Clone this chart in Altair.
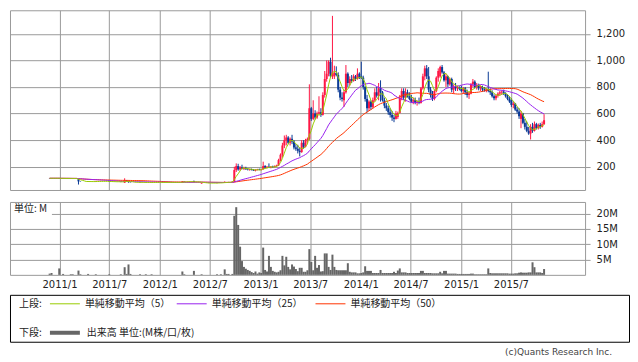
import pandas as pd
import altair as alt

# Weekly candles (open, high, low, close), one row per week starting 2010-11-26
bars_2010_2012 = [
    (114, 115, 112, 113), (113, 114, 112, 113), (113, 113, 113, 113), (113, 113, 113, 113), (113, 113, 113, 113),
    (113, 116, 111, 112), (112, 112, 112, 112), (112, 113, 110, 112), (112, 112, 112, 112), (112, 112, 112, 112),
    (112, 112, 112, 112), (112, 113, 110, 111), (111, 112, 110, 111), (111, 111, 111, 111), (111, 111, 111, 111),
    (106, 108, 66, 90), (90, 92, 88, 89), (89, 89, 89, 89), (89, 89, 89, 89), (89, 89, 89, 89),
    (89, 92, 86, 88), (88, 88, 88, 88), (88, 88, 88, 88), (88, 88, 88, 88), (88, 92, 87, 90),
    (90, 90, 90, 90), (90, 90, 90, 90), (90, 90, 90, 90), (90, 90, 90, 90), (90, 90, 90, 90),
    (90, 90, 90, 90), (90, 91, 86, 87), (87, 87, 87, 87), (87, 87, 87, 87), (87, 87, 87, 87),
    (87, 87, 87, 87), (87, 87, 87, 87), (87, 88, 84, 85), (85, 85, 85, 85), (80, 113, 78, 96),
    (96, 98, 90, 92), (92, 96, 80, 84), (84, 86, 82, 83), (83, 83, 83, 83), (83, 83, 83, 83),
    (83, 83, 83, 83), (83, 83, 83, 83), (83, 84, 80, 82), (82, 82, 82, 82), (82, 82, 82, 82),
    (82, 83, 80, 81), (81, 81, 81, 81), (81, 81, 81, 81), (81, 83, 80, 82), (82, 82, 82, 82),
    (82, 82, 82, 82), (82, 82, 82, 82), (82, 82, 82, 82), (82, 82, 82, 82), (82, 82, 82, 82),
    (82, 82, 82, 82), (82, 82, 82, 82), (82, 82, 82, 82), (82, 82, 82, 82), (82, 82, 82, 82),
    (82, 82, 82, 82), (82, 82, 82, 82), (82, 82, 82, 82), (82, 82, 82, 82), (82, 92, 81, 89),
    (89, 90, 86, 87), (87, 87, 87, 87), (87, 87, 87, 87), (87, 87, 87, 87), (87, 87, 87, 87),
    (92, 96, 84, 85), (85, 85, 85, 85), (85, 85, 85, 85), (85, 85, 85, 85), (74, 78, 72, 77),
    (77, 77, 77, 77), (77, 77, 77, 77), (77, 77, 77, 77), (77, 77, 77, 77), (77, 77, 77, 77),
    (77, 77, 77, 77), (77, 77, 77, 77), (77, 80, 76, 79), (79, 79, 79, 79), (79, 81, 78, 80),
    (80, 80, 80, 80), (82, 90, 80, 84), (84, 85, 82, 83), (83, 86, 82, 85), (85, 85, 85, 85),
    (85, 90, 84, 88), (88, 200, 86, 175), (175, 225, 160, 205), (205, 222, 170, 180), (180, 205, 170, 195),
    (195, 215, 180, 185), (185, 200, 175, 190), (190, 200, 178, 180), (180, 190, 172, 178), (178, 185, 170, 182),
    (182, 186, 172, 175), (175, 182, 168, 170), (170, 180, 165, 178), (178, 184, 172, 180), (180, 186, 174, 176),
]
bars_2013 = [
    (176, 182, 172, 180), (180, 238, 178, 205), (205, 212, 188, 195), (195, 205, 188, 200), (200, 225, 190, 195),
    (195, 205, 188, 200), (200, 208, 192, 198), (198, 210, 195, 205), (205, 215, 200, 210), (210, 260, 205, 250),
    (250, 300, 240, 290), (290, 380, 270, 360), (360, 435, 340, 400), (400, 440, 360, 420), (420, 430, 370, 380),
    (380, 420, 360, 410), (410, 440, 370, 390), (390, 400, 330, 345), (345, 370, 320, 335), (335, 365, 300, 320),
    (320, 345, 278, 310), (310, 400, 305, 380), (380, 400, 335, 350), (350, 410, 345, 400), (400, 420, 380, 410),
    (410, 820, 400, 640), (640, 650, 545, 560), (560, 700, 550, 600), (600, 625, 555, 570), (570, 615, 560, 600),
    (600, 730, 590, 610), (610, 640, 575, 590), (590, 760, 585, 740), (740, 920, 720, 860), (860, 1000, 840, 900),
    (900, 1000, 880, 990), (990, 1020, 870, 880), (880, 1335, 860, 910), (880, 960, 860, 905), (905, 955, 880, 890),
    (890, 910, 760, 780), (780, 800, 700, 720), (720, 760, 690, 710), (700, 780, 650, 760), (760, 965, 750, 900),
    (900, 910, 800, 830), (830, 880, 810, 860), (860, 890, 830, 845), (845, 895, 840, 880), (880, 890, 845, 860),
    (860, 940, 855, 900), (900, 910, 860, 870),
]
bars_2014 = [
    (880, 990, 860, 870), (870, 885, 780, 800), (800, 810, 690, 710), (710, 740, 610, 640), (640, 700, 620, 690),
    (690, 700, 630, 650), (650, 720, 640, 700), (700, 790, 690, 760), (760, 800, 720, 735), (735, 830, 700, 790),
    (790, 850, 690, 760), (760, 770, 690, 700), (700, 720, 640, 660), (660, 680, 620, 640), (640, 660, 590, 610),
    (610, 640, 570, 590), (590, 620, 545, 570), (570, 590, 535, 560), (560, 620, 555, 600), (575, 615, 560, 605),
    (605, 740, 600, 720), (720, 790, 700, 770), (770, 790, 700, 720), (720, 790, 690, 760), (760, 780, 720, 735),
    (735, 760, 700, 710), (710, 740, 680, 690), (690, 720, 670, 700), (700, 720, 670, 680), (680, 700, 660, 690),
    (690, 720, 670, 680), (680, 800, 675, 790), (790, 900, 780, 880), (880, 960, 850, 940), (940, 965, 860, 880),
    (880, 950, 760, 780), (780, 800, 720, 740), (740, 770, 695, 710), (710, 780, 700, 770), (770, 880, 760, 870),
    (870, 940, 840, 920), (880, 960, 870, 950), (950, 965, 900, 910), (910, 920, 840, 850), (850, 900, 800, 880),
    (880, 885, 800, 820), (820, 870, 810, 860), (860, 870, 760, 780), (780, 820, 750, 800), (800, 830, 770, 790),
    (790, 810, 770, 800), (800, 805, 775, 785),
]
bars_2015 = [
    (785, 810, 760, 770), (770, 800, 750, 790), (790, 800, 740, 760), (760, 780, 720, 740), (740, 760, 710, 750),
    (750, 830, 745, 820), (820, 860, 800, 840), (840, 850, 790, 800), (800, 830, 780, 815), (815, 825, 775, 790),
    (790, 810, 770, 800), (800, 810, 765, 780), (780, 800, 765, 775), (775, 790, 760, 785), (785, 915, 760, 770),
    (770, 790, 740, 760), (760, 775, 720, 730), (730, 745, 700, 715), (715, 740, 700, 735), (735, 760, 720, 750),
    (750, 770, 735, 760), (760, 775, 740, 765), (765, 780, 740, 750), (750, 760, 720, 730), (730, 745, 700, 710),
    (710, 730, 680, 690), (700, 715, 650, 665), (665, 690, 640, 675), (675, 680, 620, 630), (630, 650, 600, 615),
    (615, 640, 560, 580), (560, 620, 490, 600), (600, 605, 520, 530), (530, 560, 480, 500), (500, 540, 460, 470),
    (470, 500, 440, 450), (450, 520, 405, 500), (500, 530, 455, 470), (470, 540, 465, 520), (520, 530, 480, 490),
    (490, 525, 480, 515), (515, 530, 485, 500), (500, 540, 495, 520), (520, 595, 515, 550),
]

# Weekly volume in millions of shares
vol_2010_2012 = [
    0.4, 0.6, 0, 0, 0, 2.1, 0, 0.3, 0, 0, 0, 0.2, 0.2, 0, 0, 1.4, 0.2, 0, 0, 0,
    0.3, 0, 0, 0, 0.2, 0, 0, 0, 0, 0, 0, 0.2, 0, 0, 0, 0, 0, 0.2, 0, 2.5,
    0.3, 3.4, 0.3, 0, 0, 0, 0, 0.2, 0, 0, 0.2, 0, 0, 0.2, 0, 0, 0, 0, 0, 0,
    0, 0, 0, 0, 0, 0, 0, 0, 0, 1.1, 0.2, 0, 0, 0, 0, 1.3, 0, 0, 0, 0.2,
    0, 0, 0, 0, 0, 0, 0, 0.2, 0, 0.2, 0, 1.8, 0.3, 0.3, 0, 0.3, 19.3, 22.1, 16.3, 9.2,
    4.5, 2.6, 2.0, 1.6, 1.3, 0.9, 0.6, 1.1, 0.4, 0.8,
]
vol_2013 = [
    0.6, 8.9, 1.6, 1.1, 6.2, 2.6, 1.3, 1.0, 0.8, 1.0, 1.5, 6.2, 3.1, 5.9, 2.6, 1.8, 3.4, 2.7, 1.9, 1.2,
    2.3, 2.3, 1.0, 1.0, 1.5, 8.4, 4.2, 1.5, 6.2, 2.3, 3.2, 1.1, 1.2, 7.0, 7.0, 2.6, 1.6, 6.6, 2.6, 1.6,
    1.5, 1.5, 1.5, 1.5, 1.5, 3.8, 1.0, 0.8, 0.8, 0.8, 0.5, 0.5,
]
vol_2014 = [
    0.6, 0.8, 2.8, 1.3, 1.3, 1.3, 0.6, 0.6, 0.6, 0.6, 1.6, 0.6, 0.6, 0.6, 0.6, 0.6, 0.6, 1.0, 0.6, 1.4,
    2.1, 0.8, 0.8, 0.8, 0.6, 0.6, 0.6, 0.6, 0.6, 0.6, 0.6, 1.3, 1.3, 0.6, 0.6, 0.6, 0.6, 0.5, 0.5, 0.5,
    0.5, 1.0, 0.5, 1.3, 1.3, 0.4, 0.4, 0.4, 0.4, 0.4, 0.3, 0.3,
]
vol_2015 = [
    0.3, 0.3, 0.3, 0.3, 0.3, 0.4, 0.4, 0.2, 0.2, 0.2, 0.2, 0.2, 0.2, 0.2, 2.1, 0.6, 0.5, 0.5, 0.5, 0.5,
    0.5, 0.5, 0.5, 0.5, 0.5, 0.4, 0.4, 0.4, 0.5, 0.5, 0.7, 0.8, 0.7, 0.7, 0.7, 0.8, 0.8, 4.1, 2.5, 0.8,
    0.8, 0.8, 0.6, 1.9,
]

first_week = "2010-11-26"
price_ticks = [200, 400, 600, 800, 1000, 1200]
volume_ticks = [5, 10, 15, 20]
x_tick_months = [(2011, 1), (2011, 7), (2012, 1), (2012, 7), (2013, 1),
                 (2013, 7), (2014, 1), (2014, 7), (2015, 1), (2015, 7)]
legend_top = "上段:"
legend_bottom = "下段:"
ma_labels = ["単純移動平均（5）", "単純移動平均（25）", "単純移動平均（50）"]
volume_label = "出来高 単位:(M株/口/枚)"
unit_label = "単位: M"
credit = "(c)Quants Research Inc."

# ---------------------------------------------------------------------------
bars = bars_2010_2012 + bars_2013 + bars_2014 + bars_2015
vols = vol_2010_2012 + vol_2013 + vol_2014 + vol_2015
assert len(bars) == len(vols), (len(bars), len(vols))

df = pd.DataFrame(bars, columns=["open", "high", "low", "close"])
df["volume"] = vols
df["date"] = pd.date_range(first_week, periods=len(df), freq="7D").strftime("%Y-%m-%d")

UP, DOWN = "#ff1744", "#0a3a96"
MA_COLORS = ["#99cc00", "#9922ee", "#ff3300"]
GRID = "#9a9a9a"
JP = "Noto Sans CJK JP"
W, H1, H2 = 576, 180, 73
LEG_W, LEG_H = 620, 47

xscale = alt.Scale(type="utc", domain=[alt.DateTime(year=2010, month=7, date=23, utc=True),
                                       alt.DateTime(year=2016, month=3, date=9, utc=True)])
xvals = [alt.DateTime(year=y, month=m, date=1, utc=True) for y, m in x_tick_months]
yscale = alt.Scale(domain=[25, 1377], zero=False, nice=False)

x_top_axis = alt.Axis(values=xvals, grid=True, labels=False, ticks=False, domain=False, title=None)
x_bot_axis = alt.Axis(values=xvals, grid=True, ticks=False, domain=False, title=None,
                      labelExpr="utcFormat(datum.value, '%Y/%-m')", labelPadding=5,
                      labelOverlap=False, labelFlush=False)
y_price_axis = alt.Axis(orient="right", values=price_ticks, labelExpr="format(datum.value, ',')",
                        grid=True, domain=False, tickColor=GRID, tickSize=5, labelPadding=6,
                        labelOverlap=False, labelFlush=False, title=None)
y_vol_axis = alt.Axis(orient="right", values=volume_ticks, labelExpr="datum.value + 'M'", grid=True,
                      domain=False, tickColor=GRID, tickSize=5, labelPadding=6,
                      labelOverlap=False, labelFlush=False, title=None)

base = alt.Chart(df).encode(x=alt.X("date:T", scale=xscale, axis=x_top_axis))
traded = base.transform_filter("datum.volume > 0")
candle_color = alt.condition("datum.close >= datum.open", alt.value(UP), alt.value(DOWN))

wick = traded.mark_rule(strokeWidth=1).encode(
    y=alt.Y("low:Q", scale=yscale, axis=y_price_axis), y2="high:Q", color=candle_color)
body = traded.mark_bar(size=2).encode(
    y=alt.Y("open:Q", scale=yscale, axis=y_price_axis), y2="close:Q", color=candle_color)

ma_base = base.transform_window(
    ma5="mean(close)", frame=[-4, 0], sort=[alt.SortField("date")]
).transform_window(
    ma25="mean(close)", frame=[-24, 0], sort=[alt.SortField("date")]
).transform_window(
    ma50="mean(close)", frame=[-49, 0], sort=[alt.SortField("date")]
)
ma50 = ma_base.mark_line(strokeWidth=1, color=MA_COLORS[2]).encode(
    y=alt.Y("ma50:Q", scale=yscale, axis=y_price_axis))
ma25 = ma_base.mark_line(strokeWidth=1, color=MA_COLORS[1]).encode(
    y=alt.Y("ma25:Q", scale=yscale, axis=y_price_axis))
ma5 = ma_base.mark_line(strokeWidth=1, color=MA_COLORS[0]).encode(
    y=alt.Y("ma5:Q", scale=yscale, axis=y_price_axis))

price = alt.layer(wick, body, ma50, ma25, ma5).properties(width=W, height=H1)

one = pd.DataFrame({"k": [0]})
vol_bars = alt.Chart(df).mark_bar(size=2, color="#666666").encode(
    x=alt.X("date:T", scale=xscale, axis=x_bot_axis),
    y=alt.Y("volume:Q", scale=alt.Scale(domain=[0, 23.8], nice=False), axis=y_vol_axis),
)
unit_bg = alt.Chart(one).mark_rect(color="white").encode(
    x=alt.value(1), x2=alt.value(42), y=alt.value(1), y2=alt.value(13))
unit_txt = alt.Chart(one).mark_text(align="left", baseline="middle", font=JP, fontSize=10,
                                    color="#222222", text=unit_label).encode(
    x=alt.value(4), y=alt.value(7))
volume = alt.layer(vol_bars, unit_bg, unit_txt).properties(width=W, height=H2)


def leg_text(label, x, y, align="left", font=JP, size=10, color="#222222"):
    return alt.Chart(one).mark_text(align=align, baseline="middle", font=font, fontSize=size,
                                    color=color, text=label).encode(x=alt.value(x), y=alt.value(y))


def leg_line(color, x1, x2, y, width=1):
    return alt.Chart(one).mark_rule(color=color, strokeWidth=width).encode(
        x=alt.value(x1), x2=alt.value(x2), y=alt.value(y))


row1, row2 = 9, 38
legend = alt.layer(
    leg_text(legend_top, 9, row1),
    leg_line(MA_COLORS[0], 40, 70, row1), leg_text(ma_labels[0], 75, row1),
    leg_line(MA_COLORS[1], 167, 197, row1), leg_text(ma_labels[1], 202, row1),
    leg_line(MA_COLORS[2], 306, 336, row1), leg_text(ma_labels[2], 341, row1),
    leg_text(legend_bottom, 9, row2),
    leg_line("#666666", 40, 70, row2, width=4), leg_text(volume_label, 77, row2),
    leg_text(credit, 603, LEG_H + 10, align="right", font="DejaVu Sans", size=9, color="#444444"),
).properties(width=LEG_W, height=LEG_H, view=alt.ViewBackground(stroke="#000000"))

chart = alt.vconcat(
    alt.vconcat(price, volume, spacing=10),
    legend,
    spacing=3,
).properties(
    padding={"left": 1, "top": 1, "right": 0, "bottom": 0}
).configure_view(
    stroke=GRID, strokeWidth=1
).configure_axis(
    gridColor=GRID, gridWidth=1, labelFont="DejaVu Sans", labelFontSize=10, labelColor="#222222"
)

chart.save("out.html", embed_options={"renderer": "svg", "actions": False})
